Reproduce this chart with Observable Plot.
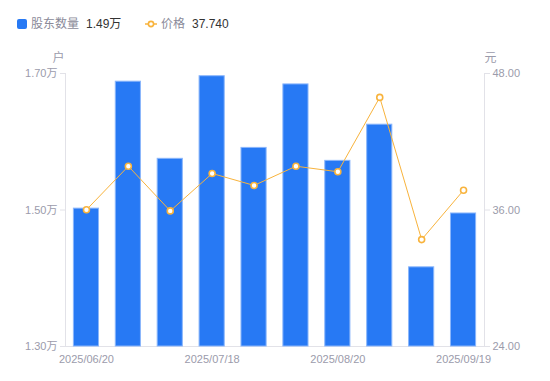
<!DOCTYPE html>
<html>
<head>
<meta charset="utf-8">
<script src="https://cdn.jsdelivr.net/npm/d3@7"></script>
<script src="https://cdn.jsdelivr.net/npm/@observablehq/plot@0.6"></script>
<style>
  html, body { margin: 0; padding: 0; background: #fff; }
  #wrap { position: relative; width: 550px; height: 381px; font-family: "Liberation Sans", Arial, "Noto Sans CJK SC", sans-serif; }
  #legend { position: absolute; left: 0; top: 0; width: 550px; height: 50px; font-size: 12px; }
  .it { position: absolute; top: 17px; line-height: 15px; white-space: nowrap; }
  .sw { position: absolute; top: 19px; }
</style>
</head>
<body>
<div id="wrap">
  <div id="chart"></div>
  <div id="legend"></div>
</div>
<script>
const dates = ["2025/06/20","2025/06/30","2025/07/10","2025/07/18","2025/07/31","2025/08/10","2025/08/20","2025/08/31","2025/09/10","2025/09/19"];
const holders = [1.502, 1.688, 1.575, 1.696, 1.591, 1.684, 1.572, 1.625, 1.416, 1.4949]; // 万户
const prices = [36.02, 39.85, 35.92, 39.21, 38.16, 39.85, 39.36, 45.90, 33.40, 37.74]; // 元
const xTickLabels = ["2025/06/20","2025/07/18","2025/08/20","2025/09/19"];
const leftTicks = [1.30, 1.50, 1.70];
const rightTicks = [24, 36, 48];
const legendNames = ["股东数量", "价格"];
const legendValues = ["1.49万", "37.740"];

const yMin = 1.3, yMax = 1.7, pMin = 24, pMax = 48;
const p2y = p => yMin + (p - pMin) / (pMax - pMin) * (yMax - yMin);

const data = dates.map((d, i) => ({date: d, holders: holders[i], price: prices[i]}));

const blue = "#2779f4";
const orange = "#f8b33c";
const axisColor = "#e2e2e8";
const tickText = "#9b9bab";

const chart = Plot.plot({
  width: 550,
  height: 381,
  marginTop: 73,
  marginBottom: 35,
  marginLeft: 65,
  marginRight: 66,
  style: {fontFamily: '"Liberation Sans", Arial, "Noto Sans CJK SC", sans-serif', fontSize: "11px", background: "#fff"},
  x: {type: "band", domain: dates, paddingInner: 0.4, paddingOuter: 0.2, round: false},
  y: {domain: [yMin, yMax]},
  marks: [
    Plot.frame({anchor: "left", stroke: axisColor}),
    Plot.frame({anchor: "right", stroke: axisColor}),
    Plot.frame({anchor: "bottom", stroke: axisColor}),
    Plot.barY(data, {x: "date", y1: yMin, y2: "holders", fill: blue, stroke: "#8ab6fb", strokeWidth: 1}),
    Plot.axisX({ticks: xTickLabels, tickSize: 0, tickPadding: 9, color: tickText, fontSize: 11, label: null}),
    Plot.axisY({anchor: "left", ticks: leftTicks, tickSize: 5, tickPadding: 3, stroke: axisColor, strokeOpacity: 1, color: tickText, fontSize: 11, label: null, tickFormat: d => d.toFixed(2) + "万"}),
    Plot.axisY({anchor: "right", ticks: leftTicks, tickSize: 5, tickPadding: 3, stroke: axisColor, strokeOpacity: 1, color: tickText, fontSize: 11, label: null, tickFormat: (d, i) => rightTicks[i].toFixed(2)}),
    Plot.line(data, {x: "date", y: d => p2y(d.price), stroke: orange, strokeWidth: 1}),
    Plot.dot(data, {x: "date", y: d => p2y(d.price), r: 3, fill: "#fff", stroke: orange, strokeWidth: 1.6}),
    Plot.text(["户"], {frameAnchor: "top-left", dx: -7, dy: -20, fill: tickText, fontSize: 12, textAnchor: "middle"}),
    Plot.text(["元"], {frameAnchor: "top-right", dx: 6, dy: -20, fill: tickText, fontSize: 12, textAnchor: "middle"})
  ]
});
document.getElementById("chart").appendChild(chart);

const lg = document.getElementById("legend");
lg.innerHTML = `
  <div class="sw" style="left:17px;width:10px;height:10px;border-radius:2px;background:${blue}"></div>
  <div class="it" style="left:31px;color:#8a8a99">${legendNames[0]}</div>
  <div class="it" style="left:86px;color:#333">${legendValues[0]}</div>
  <svg class="sw" style="left:145px;top:19px" width="12" height="10"><line x1="0" y1="5" x2="12" y2="5" stroke="${orange}" stroke-width="1.5"/><circle cx="6" cy="5" r="2.6" fill="#fff" stroke="${orange}" stroke-width="1.6"/></svg>
  <div class="it" style="left:161px;color:#8a8a99">${legendNames[1]}</div>
  <div class="it" style="left:192px;color:#333">${legendValues[1]}</div>
`;
</script>
</body>
</html>
